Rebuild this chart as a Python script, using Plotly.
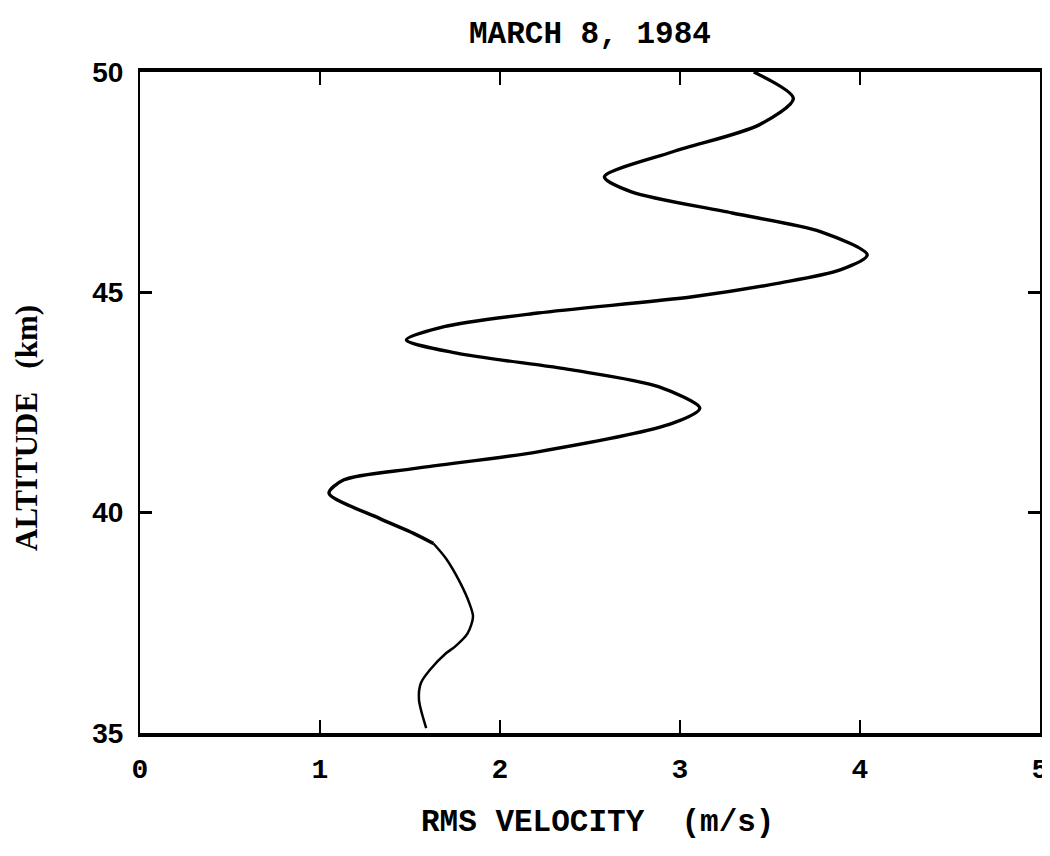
import plotly.graph_objects as go

# Upper part of profile (thicker line)
alt_upper = [50.0, 49.40, 48.80, 48.19, 47.62, 47.28, 46.80, 46.38, 45.85, 45.51, 45.21,
             44.90, 44.53, 44.22, 43.92, 43.62, 43.24, 42.86, 42.37, 42.03, 41.38,
             41.01, 40.74, 40.44, 39.87, 39.53, 39.30]
vel_upper = [3.41, 3.63, 3.44, 2.96, 2.58, 2.73, 3.29, 3.78, 4.04, 3.89, 3.55,
             3.07, 2.21, 1.69, 1.48, 1.76, 2.40, 2.88, 3.11, 2.96, 2.21,
             1.54, 1.13, 1.05, 1.33, 1.52, 1.63]
# Lower part of profile (thinner line)
alt_lower = [39.30, 38.96, 38.40, 37.94, 37.64, 37.26, 36.96, 36.81, 36.43, 36.13, 35.75, 35.11]
vel_lower = [1.63, 1.70, 1.78, 1.83, 1.85, 1.82, 1.75, 1.70, 1.61, 1.56, 1.55, 1.59]

x_ticks = [0, 1, 2, 3, 4, 5]
y_ticks = [35, 40, 45, 50]

title_text = "MARCH 8, 1984"
x_title = "RMS VELOCITY  (m/s)"
y_title = "ALTITUDE   (km)"

fig = go.Figure()
fig.add_trace(go.Scatter(x=vel_upper, y=alt_upper, mode="lines",
                         line=dict(color="black", width=3.4, shape="spline", smoothing=0.8),
                         showlegend=False))
fig.add_trace(go.Scatter(x=vel_lower, y=alt_lower, mode="lines",
                         line=dict(color="black", width=2.5, shape="spline", smoothing=0.8),
                         showlegend=False))

mono = "Liberation Mono"
fig.update_layout(
    width=1050, height=856,
    paper_bgcolor="white", plot_bgcolor="white",
    margin=dict(l=132, r=18, t=64, b=131),
    xaxis=dict(range=[0, 5], tickvals=x_ticks, ticktext=[str(v) for v in x_ticks],
               ticks="inside", ticklen=13, tickwidth=2, tickcolor="black",
               showline=True, linecolor="black", linewidth=4, mirror="ticks",
               showgrid=False, zeroline=False, ticklabelstandoff=7, automargin=False,
               tickfont=dict(family=mono, size=28, color="black", weight="bold")),
    yaxis=dict(range=[35, 50], tickvals=y_ticks, ticktext=[str(v) for v in y_ticks],
               ticks="inside", ticklen=12, tickwidth=3, tickcolor="black",
               showline=True, linecolor="black", linewidth=2, mirror="ticks",
               showgrid=False, zeroline=False, ticklabelstandoff=9, automargin=False,
               tickfont=dict(family="Liberation Sans", size=28, color="black", weight="bold")),
)

fig.add_annotation(text=title_text, xref="paper", yref="paper", x=(590 - 140) / 900,
                   y=1 + (72 - 35) / 661, xanchor="center", yanchor="middle", showarrow=False,
                   font=dict(family=mono, size=31, color="black", weight="bold"))
fig.add_annotation(text=x_title, xref="paper", yref="paper", x=(597 - 140) / 900,
                   y=-(822 - 733) / 661, xanchor="center", yanchor="middle", showarrow=False,
                   font=dict(family=mono, size=31, color="black", weight="bold"))
fig.add_annotation(text=y_title, xref="paper", yref="paper", x=-(140 - 27) / 900,
                   y=(733 - 428) / 661, xanchor="center", yanchor="middle", showarrow=False,
                   textangle=-90,
                   font=dict(family="Liberation Serif", size=31, color="black", weight="bold"))

fig.write_html("out.html")
